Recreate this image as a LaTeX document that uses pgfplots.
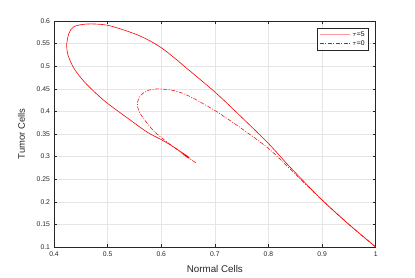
\documentclass[border=0pt]{standalone}
\usepackage{pgfplots}
\pgfplotsset{compat=1.18}
\usepackage{fontspec}
\setmainfont{Liberation Sans}
\definecolor{axgray}{rgb}{0.15,0.15,0.15}
\definecolor{gridgray}{rgb}{0.9,0.9,0.9}
\begin{document}
\begin{tikzpicture}
\useasboundingbox (-54pt,-30pt) rectangle (361pt,247pt);
\begin{axis}[
  at={(0pt,0pt)}, anchor=south west,
  scale only axis,
  width=321.7pt, height=226pt,
  xmin=0.4, xmax=1, ymin=0.1, ymax=0.6,
  xtick={0.4,0.5,...,1.0},
  ytick={0.1,0.15,...,0.61},
  xticklabels={0.4,0.5,0.6,0.7,0.8,0.9,1},
  yticklabels={0.1,0.15,0.2,0.25,0.3,0.35,0.4,0.45,0.5,0.55,0.6},
  tick align=inside,
  major tick length=3pt,
  xmajorgrids, ymajorgrids,
  major grid style={gridgray, line width=0.5pt},
  axis line style={axgray, line width=0.5pt},
  every tick/.style={axgray, line width=0.5pt},
  tick label style={font=\fontsize{6.8}{8}\selectfont, text=axgray},
  /pgf/number format/assume math mode=true,
  xticklabel style={yshift=-1.5pt},
  yticklabel style={xshift=-0.5pt},
  xlabel={Normal Cells},
  ylabel={Tumor Cells},
  xlabel style={at={(axis description cs:0.5,0)}, anchor=base, yshift=-25pt, font=\fontsize{9.8}{11}\selectfont, text=axgray},
  ylabel style={at={(axis description cs:0,0.5)}, anchor=base, yshift=29pt, font=\fontsize{9.4}{11}\selectfont, text=axgray},
  legend style={at={(1,1)}, anchor=north east, xshift=-7.4pt, yshift=-6.6pt,
    draw=axgray, line width=0.5pt, font=\fontsize{6.8}{8}\selectfont,
    inner sep=1.5pt, row sep=-1pt, cells={anchor=west}},
  legend image code/.code={\draw[#1] (0pt,0pt) -- (30pt,0pt);},
]
\addplot[color=red, line width=0.6pt, smooth, tension=0.5, legend image post style={line width=1.4pt, color=red!40}] coordinates {
(1.000,0.100) (0.950,0.150) (0.900,0.204) (0.840,0.277) (0.800,0.329)
(0.750,0.387) (0.700,0.443) (0.6475,0.4954) (0.625,0.518) (0.600,0.541) (0.575,0.5585) (0.548,0.5728)
(0.500,0.5905) (0.462,0.5934) (0.437,0.5875) (0.428,0.573) (0.4245,0.556)
(0.4236,0.547) (0.426,0.525) (0.437,0.4956) (0.456,0.4662) (0.481,0.437)
(0.500,0.4177) (0.537,0.3854) (0.574,0.354) (0.600,0.3376) (0.621,0.323)
(0.640,0.308) (0.650,0.300) (0.643,0.304) (0.651,0.297) (0.646,0.301) (0.649,0.299)
};
\addlegendentry{$\tau$=5}
\addplot[color=red, line width=0.55pt, smooth, tension=0.5, dash pattern=on 4pt off 1.5pt on 1pt off 1.5pt, legend image post style={color=red}] coordinates {
(1.000,0.100) (0.950,0.150) (0.900,0.204) (0.870,0.238) (0.840,0.273)
(0.800,0.318) (0.750,0.362) (0.700,0.402) (0.650,0.435) (0.620,0.447)
(0.5915,0.4497) (0.574,0.4457) (0.5617,0.4354) (0.5555,0.4185) (0.5586,0.400)
(0.571,0.378) (0.5866,0.356) (0.605,0.3376) (0.621,0.323) (0.638,0.308)
(0.650,0.298) (0.642,0.303) (0.655,0.294) (0.665,0.286)
};
\addlegendentry{$\tau$=0}
\end{axis}
\end{tikzpicture}
\end{document}
